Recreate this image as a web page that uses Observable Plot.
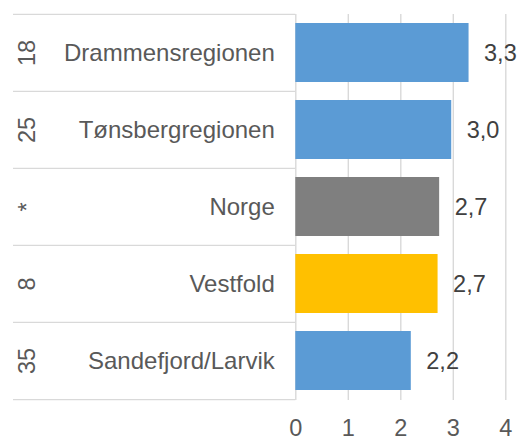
<!DOCTYPE html>
<html>
<head>
<meta charset="utf-8">
<script src="https://cdn.jsdelivr.net/npm/d3@7"></script>
<script src="https://cdn.jsdelivr.net/npm/@observablehq/plot@0.6"></script>
<style>
  html, body { margin: 0; padding: 0; background: #fff; }
</style>
</head>
<body>
<div id="chart"></div>
<script>
const categories = ["Drammensregionen", "Tønsbergregionen", "Norge", "Vestfold", "Sandefjord/Larvik"];
const ranks = ["18", "25", "*", "8", "35"];
const values = [3.3, 2.97, 2.74, 2.71, 2.2];
const valueLabels = ["3,3", "3,0", "2,7", "2,7", "2,2"];
const colors = ["#5B9BD5", "#5B9BD5", "#7F7F7F", "#FFC000", "#5B9BD5"];
const xTicks = [0, 1, 2, 3, 4];

const data = categories.map((name, i) => ({
  name, rank: ranks[i], value: values[i], label: valueLabels[i], color: colors[i]
}));

const W = 519, H = 438, mTop = 14, mBottom = 38, mLeft = 13;
const x0 = 295.3;
const step = (H - mTop - mBottom) / categories.length;

const chart = Plot.plot({
  width: W,
  height: H,
  marginTop: mTop,
  marginBottom: mBottom,
  marginLeft: mLeft,
  marginRight: 14,
  x: {domain: [0, 4], range: [x0, 505.3], ticks: xTicks, tickFormat: d => String(d), label: null},
  y: {domain: categories, paddingInner: 0.233, paddingOuter: 0.1165, axis: null},
  style: {fontFamily: "'Liberation Sans', Arial, sans-serif", fontSize: "23.5px", color: "#595959", background: "#fff"},
  marks: [
    Plot.gridX(xTicks, {stroke: "#d9d9d9", strokeOpacity: 1, strokeWidth: 1.4}),
    Plot.ruleY(data, {y: "name", x1: 0, x2: 0, insetLeft: -(x0 - mLeft), dy: -step / 2, stroke: "#d9d9d9", strokeOpacity: 1, strokeWidth: 1.4}),
    Plot.ruleY(data.slice(-1), {y: "name", x1: 0, x2: 0, insetLeft: -(x0 - mLeft), dy: step / 2, stroke: "#d9d9d9", strokeOpacity: 1, strokeWidth: 1.4}),
    Plot.barX(data, {y: "name", x: "value", fill: "color"}),
    Plot.text(data, {y: "name", x: "value", text: "label", dx: 15, textAnchor: "start", fill: "#404040", fontSize: 23.5}),
    Plot.text(data, {y: "name", x: 0, text: "name", dx: -21, textAnchor: "end", fill: "#595959", fontSize: 24}),
    Plot.text(data, {y: "name", x: 0, text: "rank", dx: -268, rotate: -90, fill: "#595959", fontSize: 23.5}),
    Plot.axisX(xTicks, {tickSize: 0, tickPadding: 19, fontSize: 23.5, fill: "#595959", label: null})
  ]
});
document.getElementById("chart").appendChild(chart);
</script>
</body>
</html>
